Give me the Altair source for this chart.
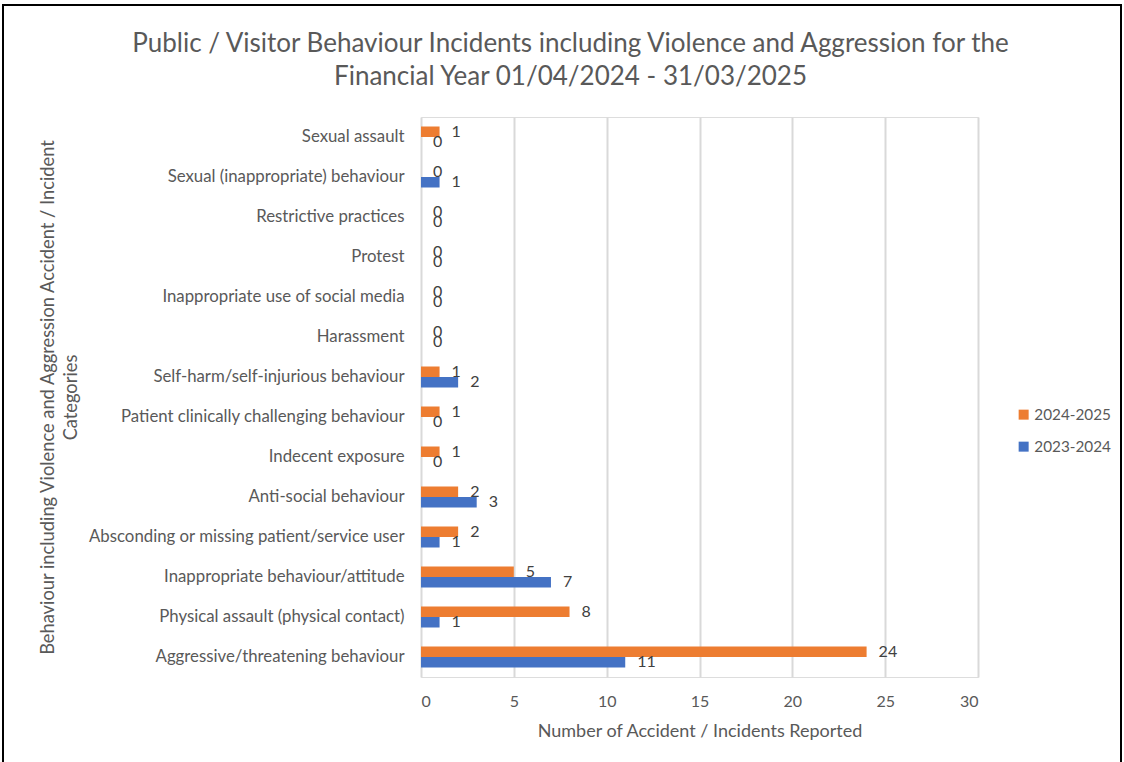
import altair as alt
import pandas as pd

categories = [
    "Sexual assault",
    "Sexual (inappropriate) behaviour",
    "Restrictive practices",
    "Protest",
    "Inappropriate use of social media",
    "Harassment",
    "Self-harm/self-injurious behaviour",
    "Patient clinically challenging behaviour",
    "Indecent exposure",
    "Anti-social behaviour",
    "Absconding or missing patient/service user",
    "Inappropriate behaviour/attitude",
    "Physical assault (physical contact)",
    "Aggressive/threatening behaviour",
]
values_2024_2025 = [1, 0, 0, 0, 0, 0, 1, 1, 1, 2, 2, 5, 8, 24]
values_2023_2024 = [0, 1, 0, 0, 0, 0, 2, 0, 0, 3, 1, 7, 1, 11]
series = ["2024-2025", "2023-2024"]
colors = ["#ED7D31", "#4472C4"]
x_ticks = [0, 5, 10, 15, 20, 25, 30]

rows = []
for c, a, b in zip(categories, values_2024_2025, values_2023_2024):
    rows.append({"category": c, "series": series[0], "value": a})
    rows.append({"category": c, "series": series[1], "value": b})
df = pd.DataFrame(rows)

FONT = "Lato"
GRAY = "#595959"

y_enc = alt.Y(
    "category:N",
    sort=categories,
    scale=alt.Scale(paddingInner=0.475, paddingOuter=0.2375),
    axis=alt.Axis(
        title=["Behaviour including Violence and Aggression Accident / Incident", "Categories"],
        titleAngle=-90,
        titleX=-373,
        titleY=280,
        titleAlign="center",
        titleBaseline="middle",
        titleFontSize=18.3,
        titleLineHeight=23,
        titleFontWeight="normal",
        titleColor=GRAY,
        titleFont=FONT,
        labelFont=FONT,
        labelFontSize=16.8,
        labelColor=GRAY,
        labelPadding=17,
        labelLimit=400,
        ticks=False,
        domain=False,
        grid=False,
    ),
)
x_enc = alt.X(
    "value:Q",
    scale=alt.Scale(domain=[0, 30], nice=False),
    axis=alt.Axis(
        values=x_ticks,
        title="Number of Accident / Incidents Reported",
        titleFont=FONT,
        titleFontSize=18,
        titleFontWeight="normal",
        titleColor=GRAY,
        titlePadding=13,
        labelFont=FONT,
        labelFontSize=16,
        labelColor=GRAY,
        labelPadding=16,
        ticks=False,
        domain=False,
        grid=True,
        gridColor="#D9D9D9",
        gridWidth=2,
    ),
)
yoff = alt.YOffset("series:N", sort=series, scale=alt.Scale(domain=series))
color_enc = alt.Color(
    "series:N",
    sort=series,
    scale=alt.Scale(domain=series, range=colors),
    legend=alt.Legend(
        title=None,
        orient="none",
        legendX=595,
        legendY=290,
        symbolType="square",
        symbolSize=100,
        symbolStrokeWidth=0,
        labelFont=FONT,
        labelFontSize=15.3,
        labelColor=GRAY,
        labelOffset=3,
        rowPadding=16,
    ),
)

bars = alt.Chart(df).mark_bar().encode(y=y_enc, x=x_enc, yOffset=yoff, color=color_enc)
labels = alt.Chart(df).mark_text(
    align="left", baseline="middle", dx=12, font=FONT, fontSize=16, color="#404040"
).encode(y=alt.Y("category:N", sort=categories), x="value:Q", yOffset=yoff, text="value:Q")

border = alt.Chart(pd.DataFrame({"k": [0]})).mark_rect(
    fill="white", fillOpacity=0, stroke="black", strokeWidth=2, clip=False
).encode(x=alt.value(-418), x2=alt.value(700), y=alt.value(-112), y2=alt.value(660))

chart = alt.layer(border, bars, labels).properties(
    width=557,
    height=560,
    title=alt.TitleParams(
        text=["Public / Visitor Behaviour Incidents including Violence and Aggression for the",
              "Financial Year 01/04/2024 - 31/03/2025"],
        font=FONT,
        fontSize=26,
        fontWeight="normal",
        color=GRAY,
        anchor="middle",
        frame="group",
        dx=-129,
        offset=-86,
        lineHeight=33,
    ),
    autosize=alt.AutoSizeParams(type="none"),
    padding={"left": 421, "top": 117, "right": 146, "bottom": 85},
).configure_view(stroke=None).configure(background="white")

chart.save("out.html", embed_options={"renderer": "svg", "actions": False})
